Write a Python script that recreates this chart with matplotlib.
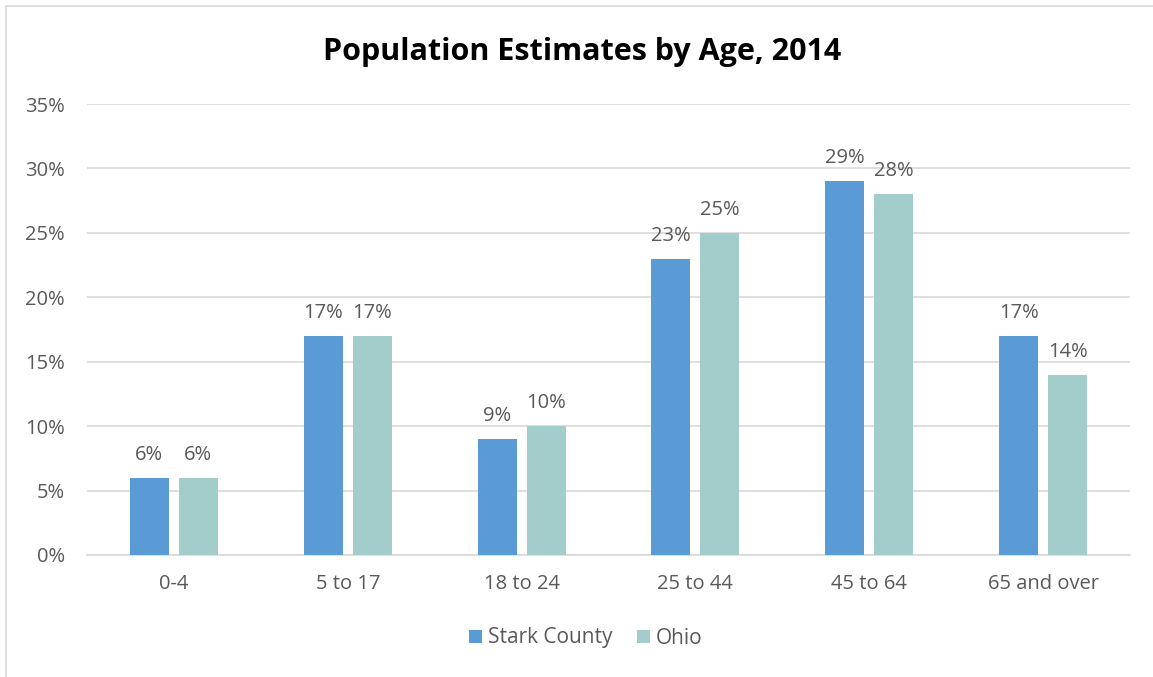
import numpy as np
import matplotlib.pyplot as plt
from matplotlib.patches import Rectangle

# data
categories = ["0-4", "5 to 17", "18 to 24", "25 to 44", "45 to 64", "65 and over"]
stark = [6, 17, 9, 23, 29, 17]
ohio = [6, 17, 10, 25, 28, 14]

plt.rcParams['font.family'] = ['Open Sans', 'DejaVu Sans']
text_color = "#595959"

fig = plt.figure(figsize=(11.53, 6.77), dpi=100)
ax = fig.add_axes([87 / 1153, 1 - 555 / 677, (1130 - 87) / 1153, (555 - 104) / 677])

# chart border (light gray frame)
fig.patches.append(Rectangle((6 / 1153, -0.01), 1.1, 1 - 6 / 677 + 0.01,
                             transform=fig.transFigure, fill=False,
                             edgecolor="#D9D9D9", linewidth=1.2))

x = np.arange(len(categories))
w = 0.224
off = 0.141
b1 = ax.bar(x - off, stark, w, color="#5B9BD5", label="Stark County", zorder=3)
b2 = ax.bar(x + off, ohio, w, color="#A2CDCB", label="Ohio", zorder=3)

for bars, vals in ((b1, stark), (b2, ohio)):
    for rect, v in zip(bars, vals):
        ax.text(rect.get_x() + rect.get_width() / 2, v + 1.0, f"{v}%",
                ha="center", va="bottom", fontsize=14.5, color=text_color)

ax.set_xlim(-0.5, len(categories) - 0.5)
ax.set_ylim(0, 35)
ax.set_yticks(range(0, 36, 5))
ax.set_yticklabels([f"{t}%" for t in range(0, 36, 5)])
ax.set_xticks(x)
ax.set_xticklabels(categories)
ax.tick_params(axis="both", length=0, labelsize=14.5, colors=text_color)
ax.tick_params(axis="y", pad=16)
ax.tick_params(axis="x", pad=14)
ax.grid(axis="y", color="#D9D9D9", linewidth=1.2, zorder=0)
for s in ("top", "right", "left"):
    ax.spines[s].set_visible(False)
ax.spines["bottom"].set_color("#D9D9D9")
ax.spines["bottom"].set_linewidth(1.2)

fig.text(582 / 1153, 1 - 52 / 677, "Population Estimates by Age, 2014",
         ha="center", va="center", fontsize=22, fontweight="bold", color="black")

fig.legend(handles=[b1, b2], loc="center", bbox_to_anchor=(586 / 1153, 1 - 638 / 677),
           ncol=2, frameon=False, fontsize=15, labelcolor=text_color,
           handlelength=0.6, handleheight=0.6, handletextpad=0.3, columnspacing=1.2)

fig.savefig("out.png", dpi=100)
